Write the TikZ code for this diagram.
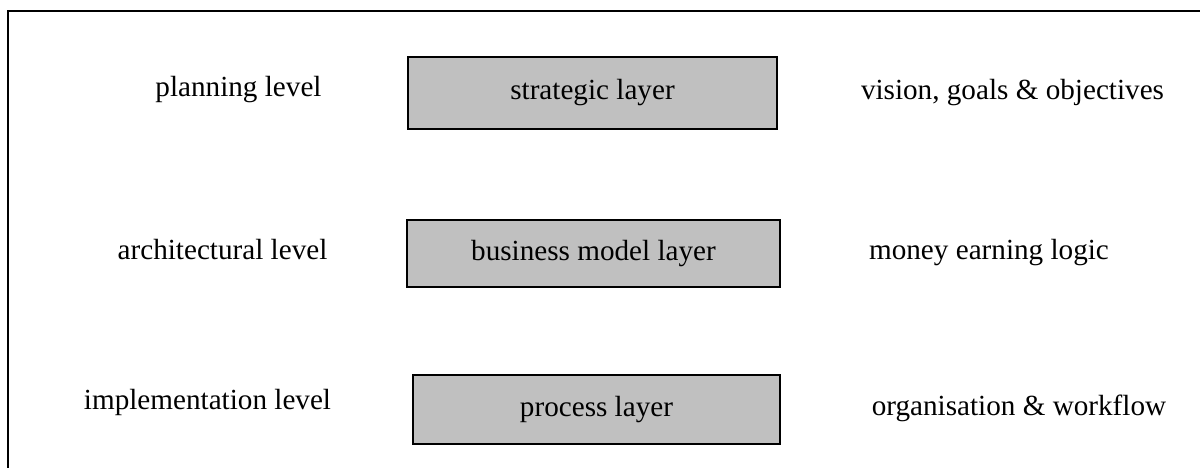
\documentclass[tikz,border=0pt]{standalone}
\usepackage{fontspec}
\setmainfont{Liberation Serif}
\begin{document}
\begin{tikzpicture}[x=0.1mm,y=-0.1mm,
  layerbox/.style={draw=black, line width=0.45pt, fill={rgb,255:red,192;green,192;blue,192}, inner sep=0pt, font=\fontsize{8.3}{10}\selectfont},
  lbl/.style={inner sep=0pt, font=\fontsize{8.3}{10}\selectfont}]
\useasboundingbox (0,0) rectangle (1200,467);
\begin{scope}
\clip (0,0) rectangle (1200,467);
\draw[line width=0.6pt] (1210,11) -- (8,11) -- (8,480);
\end{scope}
\node[layerbox, minimum width=36.9mm, minimum height=7.2mm] (strat) at (592.5,93) {strategic layer};
\node[layerbox, minimum width=37.3mm, minimum height=6.7mm] (bus) at (593.5,253.5) {business model layer};
\node[layerbox, minimum width=36.7mm, minimum height=6.9mm] (proc) at (596.5,409.5) {process layer};
\node[lbl] (plan) at (238.5,90) {planning level};
\node[lbl] (arch) at (222.5,250) {architectural level};
\node[lbl] (impl) at (207.5,402) {implementation level};
\node[lbl] (vis) at (1012.5,93) {vision, goals \& objectives};
\node[lbl] (money) at (989,253) {money earning logic};
\node[lbl] (org) at (1019,408) {organisation \& workflow};
\end{tikzpicture}
\end{document}
